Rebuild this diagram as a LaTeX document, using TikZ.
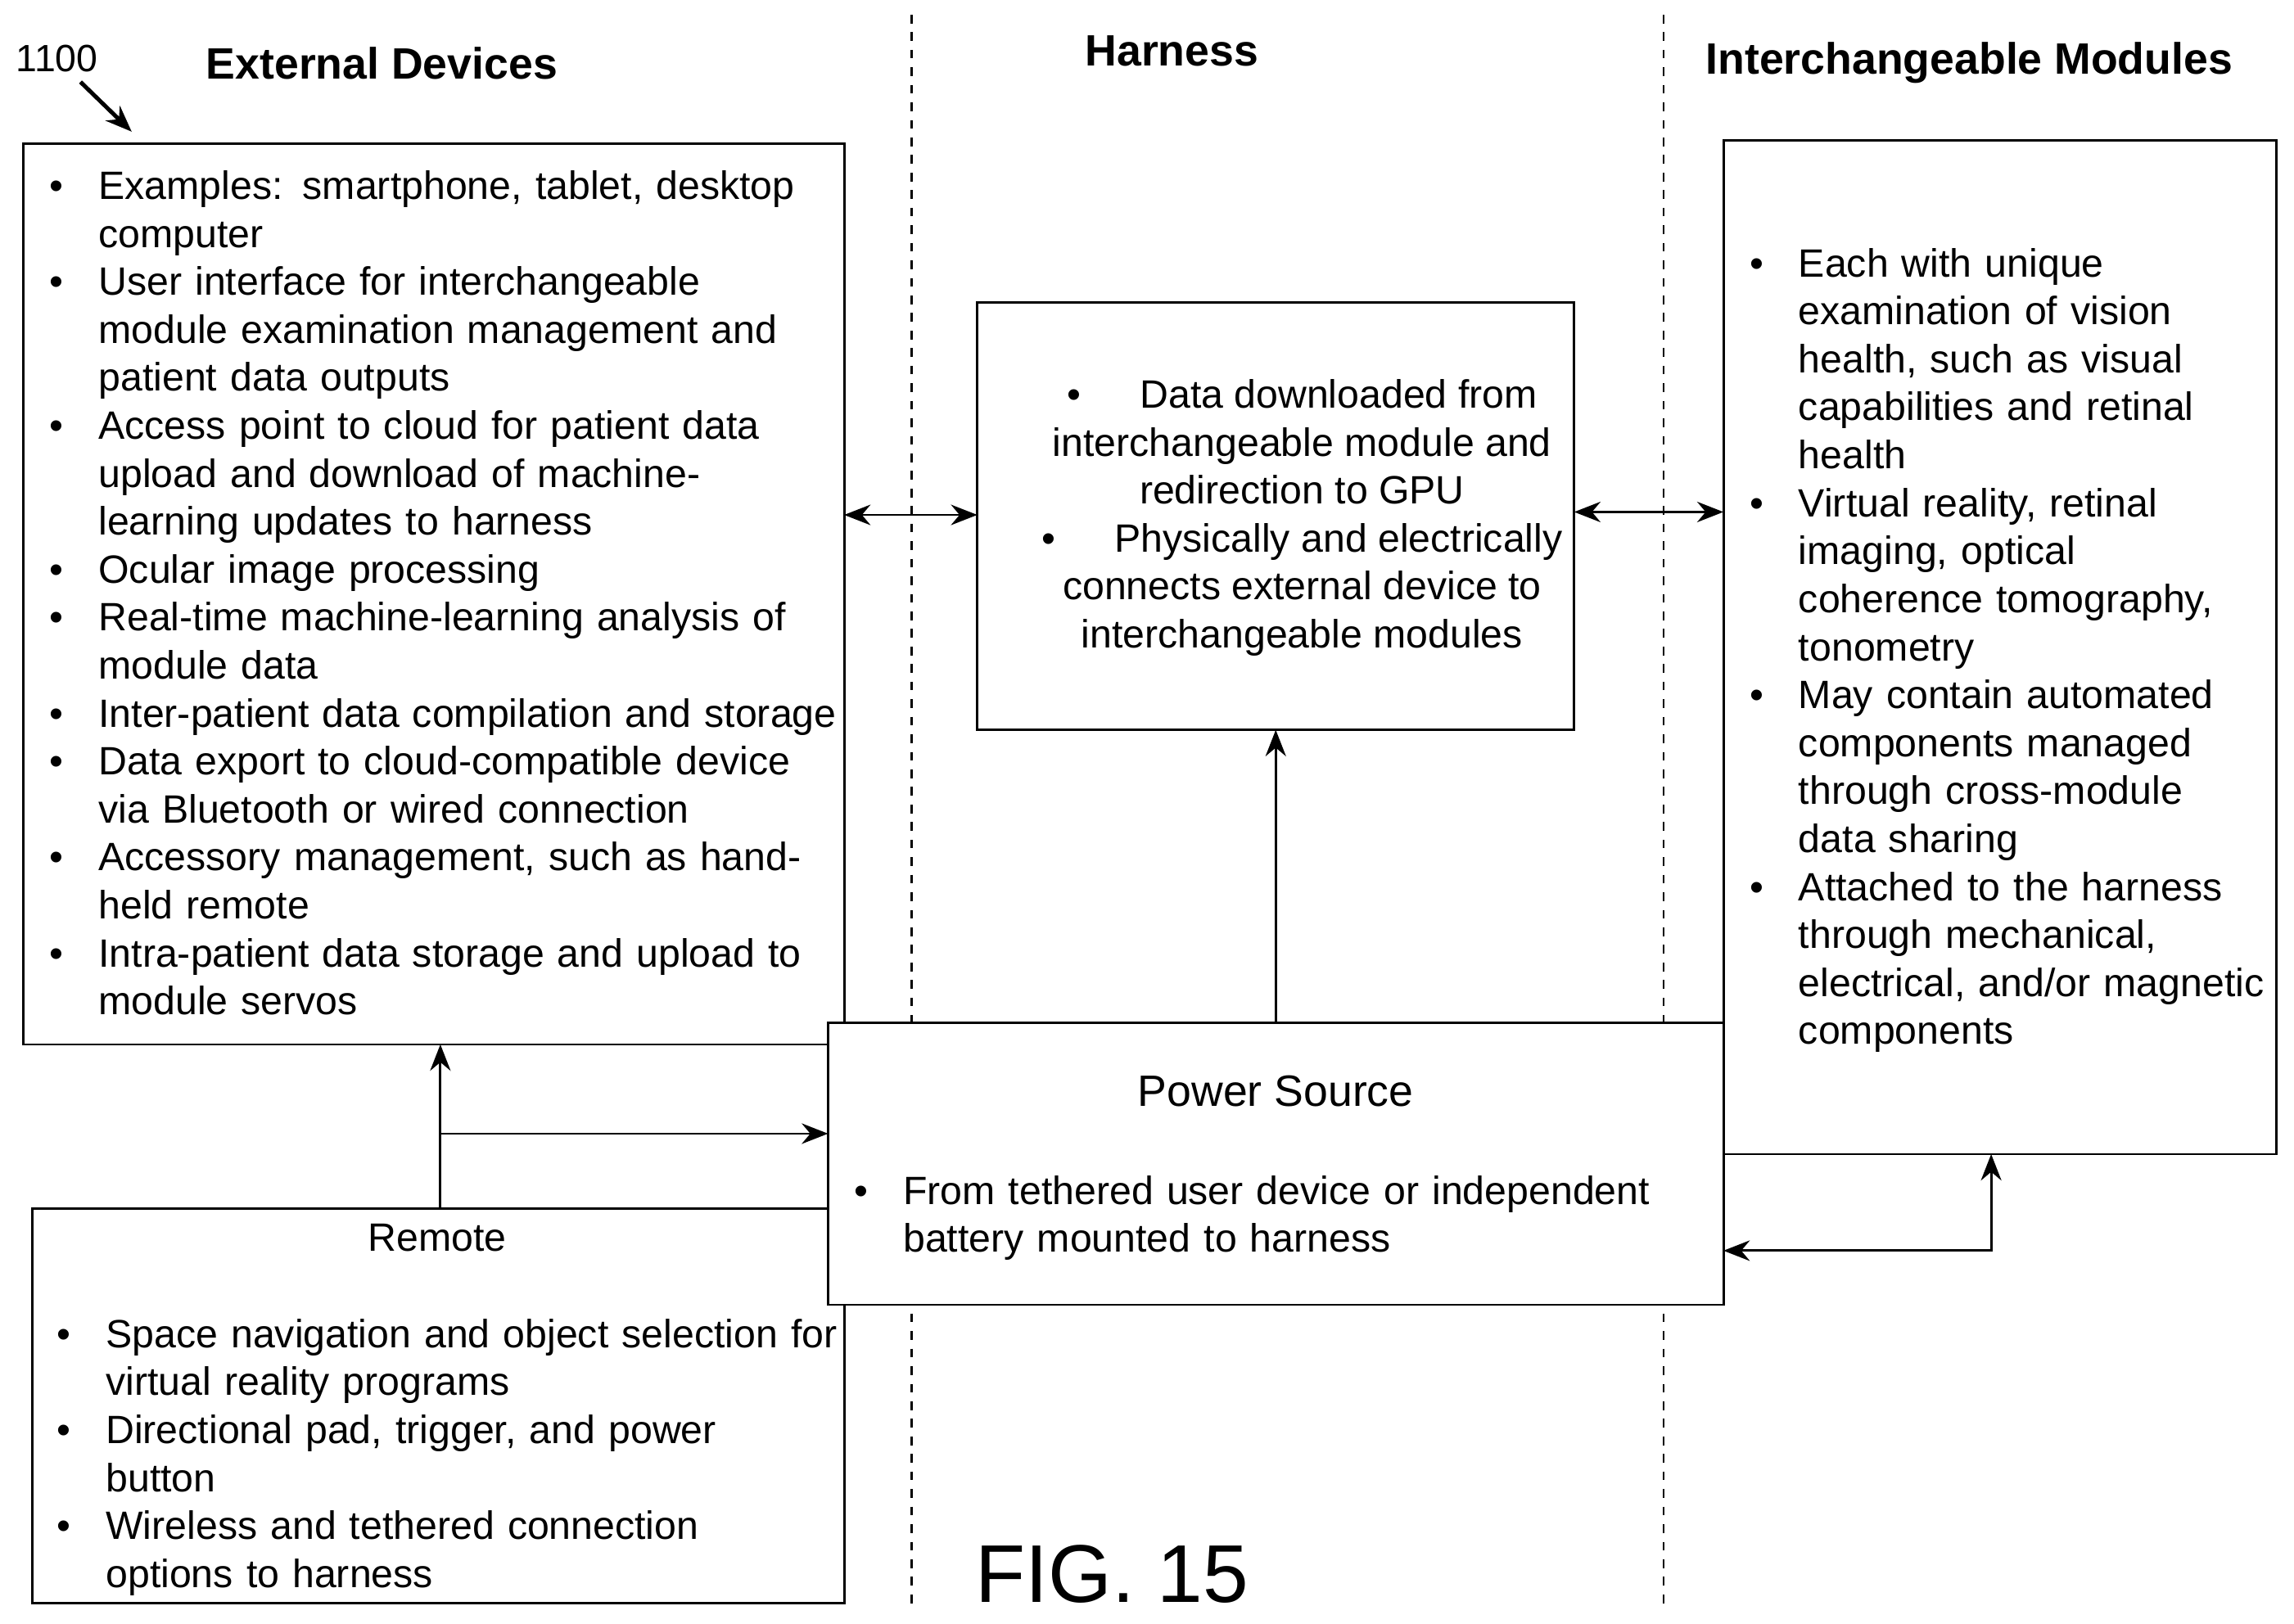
\documentclass[tikz,border=0pt]{standalone}
\usepackage{fontspec}
\setmainfont{Liberation Sans}
\usepackage{enumitem}
\usetikzlibrary{arrows.meta,positioning}
\setlist[itemize]{nosep,leftmargin=23.5pt,labelsep=12pt,label=\textbullet}

\tikzset{
  box/.style={draw, fill=white, line width=0.8pt, minimum width=#1},
  txt/.style={font=\fontsize{13.5}{16.4}\selectfont, inner sep=0pt, anchor=north west, align=left},
  head/.style={font=\fontsize{15}{18}\selectfont\bfseries},
  conn/.style={line width=0.8pt, -{Stealth[length=9pt,width=7pt]}},
  both/.style={line width=0.8pt, {Stealth[length=9pt,width=7pt]}-{Stealth[length=9pt,width=7pt]}},
}

\begin{document}
\begin{tikzpicture}[x=0.5pt, y=-0.5pt]
        \useasboundingbox[fill=white] (0,0) rectangle (1568,1110);

        % Column dividers
        \draw[dashed, line width=0.7pt] (623,10) -- (623,1100) (1137,10) -- (1137,1100);

        % Headings
        \node[head] (hExt) at (261,43) {External Devices};
        \node[head] (hHar) at (801,35) {Harness};
        \node[head] (hMod) at (1346,43) {Interchangeable Modules};
        \node[font=\fontsize{13}{15}\selectfont] (ref) at (39,40) {1100};
        \coordinate (refTip) at (90,90);
        \draw[conn, line width=1.4pt] (55,56) -- (refTip);

        % Boxes
        \draw[box] (16,98) rectangle (577,714);
        \coordinate (extS) at (301,714);
        \coordinate (extE) at (577,352);
        \draw[box] (668,207) rectangle (1076,499);
        \coordinate (harW) at (668,352);
        \coordinate (harE) at (1076,350);
        \coordinate (harS) at (872,499);
        \draw[box] (1178,96) rectangle (1556,789);
        \coordinate (modW) at (1178,350);
        \coordinate (modS) at (1361,789);
        \draw[box] (22,826) rectangle (577,1096);
        \coordinate (remN) at (301,826);
        \coordinate (remJ) at (301,775);
        \draw[box] (566,699) rectangle (1178,892);
        \coordinate (powN) at (872,699);
        \coordinate (powW) at (566,775);
        \coordinate (powE) at (1178,855);
        \coordinate (powJ) at (1361,855);

        % Texts
        \node[txt, text width=540pt] (extTxt) at (20,103) {\begin{itemize}
          \item Examples: smartphone, tablet, desktop\\ computer
          \item User interface for interchangeable\\ module examination management and\\ patient data outputs
          \item Access point to cloud for patient data\\ upload and download of machine-\\ learning updates to harness
          \item Ocular image processing
          \item Real-time machine-learning analysis of\\ module data
          \item Inter-patient data compilation and storage
          \item Data export to cloud-compatible device\\ via Bluetooth or wired connection
          \item Accessory management, such as hand-\\ held remote
          \item Intra-patient data storage and upload to\\ module servos
        \end{itemize}};
        \node[txt, anchor=north, align=center] (harTxt) at (890,259)
          {\textbullet\hspace{1.5em}Data downloaded from\\ interchangeable module and\\ redirection to GPU\\
           \textbullet\hspace{1.5em}Physically and electrically\\ connects external device to\\ interchangeable modules};
        \node[txt, text width=300pt] (modTxt) at (1182,156) {\begin{itemize}
          \item Each with unique\\ examination of vision\\ health, such as visual\\ capabilities and retinal\\ health
          \item Virtual reality, retinal\\ imaging, optical\\ coherence tomography,\\ tonometry
          \item May contain automated\\ components managed\\ through cross-module\\ data sharing
          \item Attached to the harness\\ through mechanical,\\ electrical, and/or magnetic\\ components
        \end{itemize}};
        \node[font=\fontsize{15}{18}\selectfont] (powTitle) at (872,746) {Power Source};
        \node[txt, text width=560pt] (powTxt) at (570,790) {\begin{itemize}
          \item From tethered user device or independent\\ battery mounted to harness
        \end{itemize}};
        \node[font=\fontsize{13.5}{16.5}\selectfont] (remTitle) at (299,846) {Remote};
        \node[txt, text width=540pt] (remTxt) at (26,888) {\begin{itemize}[leftmargin=23pt]
          \item Space navigation and object selection for\\ virtual reality programs
          \item Directional pad, trigger, and power\\ button
          \item Wireless and tethered connection\\ options to harness
        \end{itemize}};

        \node[font=\fontsize{28}{32}\selectfont] (fig) at (760,1076) {FIG. 15};

        % Connectors
        \draw[both] (extE) -- (harW);
        \draw[both] (harE) -- (modW);
        \draw[conn] (powN) -- (harS);
        \draw[conn] (remN) -- (extS);
        \draw[conn] (remJ) -- (powW);
        \draw[both] (powE) -- (powJ) -- (modS);
\end{tikzpicture}
\end{document}
